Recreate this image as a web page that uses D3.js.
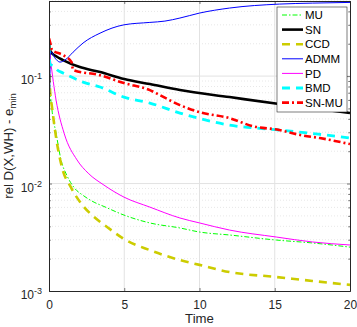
<!DOCTYPE html>
<html>
<head>
<meta charset="utf-8">
<script src="https://d3js.org/d3.v7.min.js"></script>
<style>
  body { margin: 0; background: white; }
  svg { display: block; font-family: "Liberation Sans", Arial, sans-serif; }
</style>
</head>
<body>
<div id="chart"></div>
<script>
// data (time, rel error)
var names = ['MU','SN','CCD','ADMM','PD','BMD','SN-MU'];

var muT  = [0, 0.07, 0.2, 0.47, 0.8, 1.2, 1.66, 2.3, 3.0, 3.65, 4.98, 6.7, 8.7, 10, 12, 15.1, 17.5, 20];
var muV  = [0.19, 0.08, 0.0483, 0.0295, 0.0166, 0.0118, 0.0092, 0.0077, 0.0067, 0.00612, 0.00509, 0.0043, 0.00386, 0.00354, 0.00332, 0.00298, 0.0028, 0.00256];

var snT  = [0, 0.1, 0.5, 0.93, 2, 3.4, 5, 6.7, 8.7, 12, 15.3, 20];
var snV  = [0.2, 0.17, 0.152, 0.141, 0.122, 0.109, 0.0938, 0.0843, 0.0741, 0.0638, 0.055, 0.0453];

var ccdT = [0, 0.07, 0.2, 0.53, 0.86, 1.46, 2.33, 3.0, 3.9, 4.98, 6.7, 8.7, 10, 12, 15.1, 17.5, 20];
var ccdV = [0.19, 0.0741, 0.0515, 0.0238, 0.0142, 0.0092, 0.00604, 0.00488, 0.0039, 0.00305, 0.0024, 0.00194, 0.00175, 0.0015, 0.00135, 0.00124, 0.00114];

var admmT = [0, 0.03, 0.1, 0.4, 0.73, 1.06, 1.6, 2.26, 3.39, 4.98, 6.7, 7.7, 8.7, 10, 12, 15.3, 17.5, 20];
var admmV = [0.19, 0.066, 0.17, 0.147, 0.135, 0.141, 0.167, 0.203, 0.251, 0.3, 0.316, 0.325, 0.347, 0.386, 0.43, 0.468, 0.478, 0.485];

var pdT  = [0, 0.1, 0.47, 1.0, 1.86, 2.6, 3.65, 4.98, 6.7, 8.7, 10, 12, 15.1, 17.5, 20];
var pdV  = [0.18, 0.14, 0.0598, 0.0295, 0.0166, 0.0125, 0.00968, 0.00748, 0.00604, 0.00478, 0.0043, 0.00369, 0.00318, 0.00286, 0.00268];

var bmdT = [0, 0.05, 0.3, 0.55, 0.93, 2.26, 3.39, 4.98, 6.7, 8.7, 12, 15.3, 17.9, 20];
var bmdV = [0.194, 0.13, 0.124, 0.114, 0.107, 0.0879, 0.0791, 0.0638, 0.0561, 0.0453, 0.035, 0.0315, 0.0288, 0.0265];

var snmuT = [0, 0.1, 0.2, 0.93, 1.5, 1.6, 3.39, 4.98, 6.7, 7.5, 8.7, 10, 12, 13.5, 15.3, 16.7, 18, 20];
var snmuV = [0.225, 0.2, 0.175, 0.157, 0.135, 0.114, 0.102, 0.0861, 0.0741, 0.065, 0.0537, 0.0462, 0.0406, 0.0343, 0.0315, 0.0283, 0.0265, 0.0233];

var xTicks = [0, 5, 10, 15, 20];
var yTicks = [1e-3, 1e-2, 1e-1];

var series = [
  {name: 'MU',    t: muT,   v: muV,   color: '#00ff00', width: 1,   dash: '5,2,1.5,2'},
  {name: 'SN',    t: snT,   v: snV,   color: '#000000', width: 2.6, dash: null},
  {name: 'CCD',   t: ccdT,  v: ccdV,  color: '#cccc00', width: 2.6, dash: '8,6'},
  {name: 'ADMM',  t: admmT, v: admmV, color: '#0000ff', width: 1,   dash: null},
  {name: 'PD',    t: pdT,   v: pdV,   color: '#ff00ff', width: 1,   dash: null},
  {name: 'BMD',   t: bmdT,  v: bmdV,  color: '#00ffff', width: 2.8, dash: '8,6'},
  {name: 'SN-MU', t: snmuT, v: snmuV, color: '#ff0000', width: 2.6, dash: '7,3,2,3'}
];

var W = 357, H = 327;
// axes box (window.top is read-only, so no "top" name here)
var pL = 49, pR = 350, pT = 1, pB = 291;

var svg = d3.select("#chart").append("svg")
    .attr("width", W)
    .attr("height", H);

var x = d3.scaleLinear().domain([0, 20]).range([pL, pR]);
var y = d3.scaleLog().domain([1e-3, 0.5]).range([pB, pT]);

// minor tick values
var minors = [];
for (var d = 1e-3; d < 1; d *= 10) {
    for (var k = 2; k <= 9; k++) {
        if (k * d <= 0.5) minors.push(k * d);
    }
}

// grid
var grid = svg.append("g");
grid.selectAll(".ymin").data(minors).enter().append("line")
    .attr("x1", pL).attr("x2", pR)
    .attr("y1", function(d) { return y(d); }).attr("y2", function(d) { return y(d); })
    .attr("stroke", "#d6d6d6").attr("stroke-width", 0.6).attr("stroke-dasharray", "1,2");
grid.selectAll(".ymaj").data(yTicks.slice(1)).enter().append("line")
    .attr("x1", pL).attr("x2", pR)
    .attr("y1", function(d) { return y(d); }).attr("y2", function(d) { return y(d); })
    .attr("stroke", "#e2e2e2").attr("stroke-width", 1);
grid.selectAll(".xmaj").data(xTicks.slice(1, 4)).enter().append("line")
    .attr("y1", pT).attr("y2", pB)
    .attr("x1", function(d) { return x(d); }).attr("x2", function(d) { return x(d); })
    .attr("stroke", "#e2e2e2").attr("stroke-width", 1);

// clip lines to the axes box
svg.append("clipPath").attr("id", "clip").append("rect")
    .attr("x", pL).attr("y", pT).attr("width", pR - pL).attr("height", pB - pT);

var line = d3.line()
    .curve(d3.curveMonotoneX)
    .x(function(d) { return x(d[0]); })
    .y(function(d) { return y(d[1]); });

var plot = svg.append("g").attr("clip-path", "url(#clip)");
series.forEach(function(s) {
    var pts = s.t.map(function(t, i) { return [t, s.v[i]]; });
    plot.append("path")
        .datum(pts)
        .attr("fill", "none")
        .attr("stroke", s.color)
        .attr("stroke-width", s.width)
        .attr("stroke-dasharray", s.dash)
        .attr("d", line);
});

// axes
var axisCol = "#262626";
var xAxis = svg.append("g")
    .attr("transform", "translate(0," + pB + ")")
    .call(d3.axisBottom(x).tickValues(xTicks).tickSizeInner(-3).tickSizeOuter(0).tickPadding(9));
svg.append("g")
    .attr("transform", "translate(0," + pT + ")")
    .call(d3.axisTop(x).tickValues(xTicks).tickSizeInner(-3).tickSizeOuter(0).tickFormat(""));

var yAxis = svg.append("g")
    .attr("transform", "translate(" + pL + ",0)")
    .call(d3.axisLeft(y).tickValues(yTicks).tickSizeInner(-3).tickSizeOuter(0).tickPadding(7));
svg.append("g")
    .attr("transform", "translate(" + pR + ",0)")
    .call(d3.axisRight(y).tickValues(yTicks).tickSizeInner(-3).tickSizeOuter(0).tickFormat(""));
svg.append("g")
    .attr("transform", "translate(" + pL + ",0)")
    .call(d3.axisLeft(y).tickValues(minors).tickSizeInner(-1.8).tickSizeOuter(0).tickFormat(""));
svg.append("g")
    .attr("transform", "translate(" + pR + ",0)")
    .call(d3.axisRight(y).tickValues(minors).tickSizeInner(-1.8).tickSizeOuter(0).tickFormat(""));

svg.selectAll(".domain").attr("stroke", axisCol);
svg.selectAll(".tick line").attr("stroke", axisCol).attr("stroke-width", 0.6);
xAxis.selectAll("text").attr("font-size", 12).attr("fill", axisCol)
    .attr("font-family", "Liberation Sans, Arial, sans-serif");

// 10^k labels
yAxis.selectAll(".tick text").each(function(d) {
    var t = d3.select(this).text("")
        .attr("font-size", 12).attr("fill", axisCol).attr("dy", "0.65em")
        .attr("font-family", "Liberation Sans, Arial, sans-serif");
    t.append("tspan").text("10");
    t.append("tspan").attr("dy", "-0.55em").attr("font-size", 9)
        .text(String(Math.round(Math.log10(d))));
});

// axis labels
svg.append("text")
    .attr("x", (pL + pR) / 2).attr("y", 323)
    .attr("text-anchor", "middle").attr("font-size", 13.2).attr("fill", axisCol)
    .text("Time");

var yl = svg.append("text")
    .attr("transform", "translate(13," + ((pT + pB) / 2) + ") rotate(-90)")
    .attr("text-anchor", "middle").attr("font-size", 13.2).attr("fill", axisCol);
yl.append("tspan").text("rel D(X,WH) - e");
yl.append("tspan").attr("dy", "0.3em").attr("font-size", 9.5).text("min");

// legend
var lg = svg.append("g").attr("transform", "translate(277,7)");
lg.append("rect")
    .attr("x", 0).attr("y", 0).attr("width", 70).attr("height", 105)
    .attr("fill", "white").attr("stroke", axisCol).attr("stroke-width", 0.6);
series.forEach(function(s, i) {
    var yy = 8 + i * 14.6;
    lg.append("line")
        .attr("x1", 5).attr("x2", 26).attr("y1", yy).attr("y2", yy)
        .attr("stroke", s.color).attr("stroke-width", s.width)
        .attr("stroke-dasharray", s.dash);
    lg.append("text")
        .attr("x", 28).attr("y", yy).attr("dy", "0.36em")
        .attr("font-size", 11.5).attr("fill", "#000")
        .text(s.name);
});
</script>
</body>
</html>
